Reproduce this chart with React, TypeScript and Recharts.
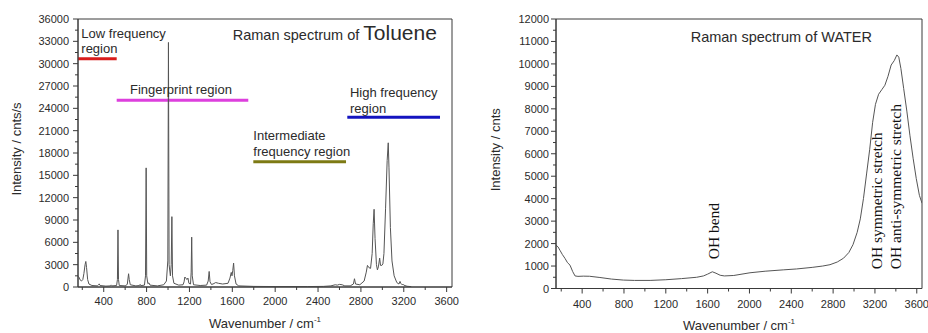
import {
  LineChart,
  Line,
  XAxis,
  YAxis,
  ReferenceLine,
  ReferenceDot,
  ReferenceArea,
  Label,
} from "recharts";

const SANS = "'Liberation Sans', Arial, Helvetica, sans-serif";
const SERIF = "'Liberation Serif', 'Times New Roman', serif";
const INK = "#2b2b2b";
const AXIS = "#3a3a3a";
const TRACE = "#555";

// Toluene spectrum [wavenumber, intensity]
const tolueneSpectrum: [number, number][] = [
  [160, 1450], [170, 1300], [180, 950], [192, 800], [205, 1000], [215, 1800],
  [226, 3000], [233, 3430], [240, 2600], [250, 1000], [262, 400], [290, 200],
  [340, 150], [352, 300], [358, 420], [366, 200], [420, 120], [462, 150],
  [470, 280], [478, 150], [520, 200], [528, 1000], [533, 7670], [538, 1000],
  [545, 200], [600, 150], [620, 350], [627, 1200], [632, 1780], [638, 1000],
  [648, 300], [700, 150], [735, 200], [740, 350], [745, 180], [780, 250],
  [790, 1500], [796, 16000], [801, 1500], [812, 450], [822, 550], [832, 250],
  [900, 150], [960, 300], [985, 800], [998, 3500], [1004, 32850], [1010, 3000],
  [1022, 1500], [1030, 3000], [1036, 9450], [1042, 1500], [1055, 500], [1100, 250],
  [1140, 300], [1150, 700], [1157, 1340], [1166, 1200], [1176, 1000], [1186, 1200],
  [1195, 500], [1210, 400], [1216, 2000], [1221, 6700], [1226, 1500], [1238, 300],
  [1300, 200], [1360, 250], [1375, 800], [1384, 2090], [1392, 700], [1405, 350],
  [1420, 400], [1445, 600], [1470, 500], [1510, 400], [1560, 500], [1578, 1200],
  [1590, 1960], [1597, 1500], [1604, 2200], [1612, 3210], [1620, 1500], [1635, 400],
  [1660, 150], [1800, 80], [2000, 60], [2300, 60], [2450, 80], [2520, 150],
  [2560, 300], [2580, 250], [2600, 350], [2625, 300], [2650, 150], [2700, 150],
  [2730, 400], [2740, 1110], [2750, 400], [2790, 300], [2830, 800], [2850, 2000],
  [2861, 2900], [2875, 2600], [2890, 2500], [2905, 4500], [2915, 8500], [2923, 10440],
  [2932, 6500], [2945, 3000], [2954, 2300], [2963, 2700], [2975, 3880], [2983, 2900],
  [2995, 2900], [3005, 3100], [3015, 4500], [3030, 10500], [3045, 17000], [3055, 19370],
  [3062, 16000], [3075, 8000], [3090, 3500], [3110, 1500], [3135, 600], [3155, 400],
  [3165, 750], [3172, 500], [3185, 300], [3190, 400], [3200, 250], [3230, 100],
  [3270, 50],
];

// Water spectrum [wavenumber, intensity]
const waterSpectrum: [number, number][] = [
  [150, 1930], [170, 1850], [188, 1700], [210, 1520], [236, 1340], [260, 1150],
  [284, 1040], [310, 750], [332, 560], [360, 540], [411, 550], [470, 545],
  [570, 490], [680, 420], [794, 375], [900, 360], [1050, 360], [1200, 390],
  [1350, 440], [1495, 500], [1560, 560], [1600, 640], [1645, 745], [1680, 680],
  [1720, 590], [1760, 560], [1850, 580], [2005, 700], [2150, 770], [2323, 830],
  [2450, 870], [2600, 940], [2700, 1000], [2770, 1060], [2840, 1180], [2900, 1350],
  [2950, 1600], [2990, 1950], [3030, 2500], [3060, 3100], [3090, 4000], [3120, 5100],
  [3150, 6200], [3178, 7400], [3205, 8200], [3235, 8650], [3265, 8850], [3295, 9050],
  [3325, 9450], [3355, 9950], [3385, 10150], [3410, 10400], [3428, 10300], [3448, 9800],
  [3475, 8900], [3505, 7900], [3535, 6800], [3565, 5800], [3595, 4900], [3625, 4150],
  [3650, 3800],
];

// Axis ticks
const xMajor = [400, 800, 1200, 1600, 2000, 2400, 2800, 3200, 3600];
const xMinor = [200, 600, 1000, 1400, 1800, 2200, 2600, 3000, 3400];
const tolueneYMajor = [0, 3000, 6000, 9000, 12000, 15000, 18000, 21000, 24000, 27000, 30000, 33000, 36000];
const tolueneYMinor = [1500, 4500, 7500, 10500, 13500, 16500, 19500, 22500, 25500, 28500, 31500, 34500];
const waterYMajor = [0, 1000, 2000, 3000, 4000, 5000, 6000, 7000, 8000, 9000, 10000, 11000, 12000];
const waterYMinor = [500, 1500, 2500, 3500, 4500, 5500, 6500, 7500, 8500, 9500, 10500, 11500];

// Spectral regions marked on the toluene plot
const regionNames = ["Low frequency", "Fingerprint", "Intermediate", "High frequency"];
const regionStart = [160, 521, 1796, 2673];
const regionEnd = [521, 1749, 2661, 3538];
const regionLevel = [30672, 25090, 16812, 22810];
const regionColors = ["#d81c1c", "#dd3fdd", "#7d7a14", "#1414c0"];

// Text notes, anchored at [wavenumber, intensity]
const tolueneNotes: { text: string; at: [number, number] }[] = [
  { text: "Low frequency", at: [191, 33450] },
  { text: "region", at: [191, 31370] },
  { text: "Fingerprint region", at: [645, 25936] },
  { text: "Intermediate", at: [1796, 19764] },
  { text: "frequency region", at: [1796, 17617] },
  { text: "High frequency", at: [2698, 25533] },
  { text: "region", at: [2698, 23386] },
];
const waterBands: { text: string; at: [number, number] }[] = [
  { text: "OH bend", at: [1713, 1300] },
  { text: "OH symmetric stretch", at: [3268, 855] },
  { text: "OH anti-symmetric stretch", at: [3449, 855] },
];

const toRows = (s: [number, number][]) => s.map(([wn, i]) => ({ wn, i }));

const makeYTick = (majors: number[], gap: number) => (p: any) => {
  const major = majors.includes(p.payload.value);
  const len = major ? 5 : 3;
  return (
    <g>
      <line x1={p.x - len} x2={p.x} y1={p.y} y2={p.y} stroke={AXIS} strokeWidth={1} />
      {major && (
        <text x={p.x - gap} y={p.y} dy={4} textAnchor="end" fontSize={11} fill={INK} fontFamily={SANS}>
          {p.payload.value}
        </text>
      )}
    </g>
  );
};

const makeXTick = (below: number) => (p: any) => {
  const major = xMajor.includes(p.payload.value);
  const len = major ? 5 : 3;
  return (
    <g>
      <line x1={p.x} x2={p.x} y1={p.y} y2={p.y + len} stroke={AXIS} strokeWidth={1} />
      {major && (
        <text x={p.x} y={p.y + below} textAnchor="middle" fontSize={11} fill={INK} fontFamily={SANS}>
          {p.payload.value}
        </text>
      )}
    </g>
  );
};

const yTitle = (text: string, dx: number, dy: number) => (props: any) => {
  const vb = props.viewBox;
  const cx = vb.x + vb.width + dx;
  const cy = vb.y + vb.height / 2 + dy;
  return (
    <text x={cx} y={cy} transform={`rotate(-90 ${cx} ${cy})`} textAnchor="middle" fontSize={13} fill={INK} fontFamily={SANS}>
      {text}
    </text>
  );
};

const xTitle = (below: number) => (props: any) => {
  const vb = props.viewBox;
  const cx = vb.x + vb.width / 2;
  const cy = vb.y + below;
  return (
    <text x={cx} y={cy} textAnchor="middle" fontSize={13} fill={INK} fontFamily={SANS}>
      Wavenumber / cm
      <tspan dy={-6} fontSize={8}>-1</tspan>
    </text>
  );
};

const App = () => {
  const toluene = toRows(tolueneSpectrum);
  const water = toRows(waterSpectrum);
  return (
    <div style={{ position: "absolute", left: 0, top: 0, width: 928, height: 333, background: "#fff", overflow: "hidden" }}>
      <div style={{ position: "absolute", left: 0, top: 0 }}>
        <LineChart width={470} height={333} data={toluene} margin={{ top: 19, right: 18, bottom: 16, left: 18 }}>
          <XAxis
            dataKey="wn"
            type="number"
            domain={[160, 3650]}
            allowDataOverflow
            ticks={[...xMinor, ...xMajor].sort((a, b) => a - b)}
            interval={0}
            height={30}
            tickSize={0}
            tickMargin={0}
            tick={makeXTick(17.5)}
            stroke={AXIS}
          >
            <Label content={xTitle(41)} />
          </XAxis>
          <YAxis
            type="number"
            domain={[0, 36000]}
            allowDataOverflow
            ticks={[...tolueneYMinor, ...tolueneYMajor].sort((a, b) => a - b)}
            interval={0}
            width={60}
            tickSize={0}
            tickMargin={0}
            tick={makeYTick(tolueneYMajor, 9)}
            stroke={AXIS}
          >
            <Label content={yTitle("Intensity / cnts/s", -57.5, -4)} />
          </YAxis>
          <ReferenceArea x1={160} x2={3650} y1={0} y2={36000} fill="none" stroke={AXIS} ifOverflow="visible" />
          {regionNames.map((name, k) => (
            <ReferenceLine
              key={name}
              segment={[
                { x: regionStart[k], y: regionLevel[k] },
                { x: regionEnd[k], y: regionLevel[k] },
              ]}
              stroke={regionColors[k]}
              strokeWidth={3}
              ifOverflow="visible"
            />
          ))}
          {tolueneNotes.map((n, k) => (
            <ReferenceDot
              key={k}
              x={n.at[0]}
              y={n.at[1]}
              r={0}
              ifOverflow="visible"
              shape={(p: any) => (
                <text x={p.cx} y={p.cy} fontSize={13} fill={INK} fontFamily={SANS}>
                  {n.text}
                </text>
              )}
            />
          ))}
          <ReferenceDot
            x={1604}
            y={33176}
            r={0}
            ifOverflow="visible"
            shape={(p: any) => (
              <text x={p.cx} y={p.cy} fontSize={14.5} fill={INK} fontFamily={SANS}>
                Raman spectrum of <tspan fontSize={21}>Toluene</tspan>
              </text>
            )}
          />
          <Line type="linear" dataKey="i" stroke={TRACE} strokeWidth={1} dot={false} isAnimationActive={false} />
        </LineChart>
      </div>

      <div style={{ position: "absolute", left: 470, top: 0 }}>
        <LineChart width={458} height={333} data={water} margin={{ top: 19, right: 6, bottom: 14.5, left: 26 }}>
          <XAxis
            dataKey="wn"
            type="number"
            domain={[150, 3650]}
            allowDataOverflow
            ticks={[...xMinor, ...xMajor].sort((a, b) => a - b)}
            interval={0}
            height={30}
            tickSize={0}
            tickMargin={0}
            tick={makeXTick(19)}
            stroke={AXIS}
          >
            <Label content={xTitle(41)} />
          </XAxis>
          <YAxis
            type="number"
            domain={[0, 12000]}
            allowDataOverflow
            ticks={[...waterYMinor, ...waterYMajor].sort((a, b) => a - b)}
            interval={0}
            width={60}
            tickSize={0}
            tickMargin={0}
            tick={makeYTick(waterYMajor, 7)}
            stroke={AXIS}
          >
            <Label content={yTitle("Intensity / cnts", -56.5, -4)} />
          </YAxis>
          <ReferenceArea x1={150} x2={3650} y1={0} y2={12000} fill="none" stroke={AXIS} ifOverflow="visible" />
          <ReferenceDot
            x={1438}
            y={10976}
            r={0}
            ifOverflow="visible"
            shape={(p: any) => (
              <text x={p.cx} y={p.cy} fontSize={14.5} fill={INK} fontFamily={SANS}>
                Raman spectrum of WATER
              </text>
            )}
          />
          {waterBands.map((b, k) => (
            <ReferenceDot
              key={k}
              x={b.at[0]}
              y={b.at[1]}
              r={0}
              ifOverflow="visible"
              shape={(p: any) => (
                <text
                  x={p.cx}
                  y={p.cy}
                  transform={`rotate(-90 ${p.cx} ${p.cy})`}
                  fontSize={15.5}
                  fill="#111"
                  fontFamily={SERIF}
                >
                  {b.text}
                </text>
              )}
            />
          ))}
          <Line type="linear" dataKey="i" stroke={TRACE} strokeWidth={1} dot={false} isAnimationActive={false} />
        </LineChart>
      </div>
    </div>
  );
};

export default App;
